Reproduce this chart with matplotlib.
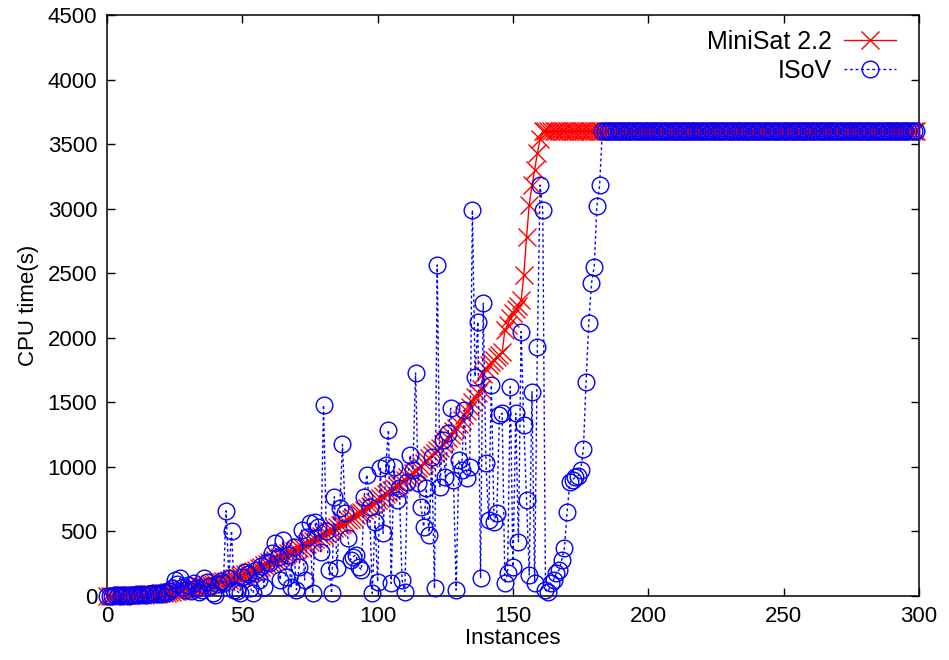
import matplotlib
matplotlib.use("Agg")
import matplotlib.pyplot as plt

plt.rcParams['font.family'] = ['Liberation Sans', 'DejaVu Sans']

# MiniSat 2.2 CPU times (s), instances 0..160 solved, rest timeout at 3600
minisat_solved = [
    1, 1, 2, 2, 3, 3, 4, 4, 5, 6,
    7, 8, 9, 10, 11, 12, 14, 15, 17, 19,
    21, 24, 27, 30, 34, 38, 42, 46, 50, 54,
    58, 62, 66, 70, 74, 78, 82, 86, 90, 95,
    100, 105, 110, 115, 120, 126, 132, 138, 145, 152,
    160, 168, 176, 185, 195, 205, 215, 226, 237, 248,
    260, 270, 280, 290, 300, 310, 320, 330, 340, 350,
    360, 370, 380, 392, 404, 416, 428, 440, 452, 464,
    476, 488, 500, 512, 524, 536, 548, 560, 572, 585,
    598, 612, 626, 640, 654, 668, 682, 697, 712, 727,
    742, 757, 772, 788, 804, 820, 836, 852, 868, 884,
    900, 918, 936, 954, 972, 990, 1010, 1030, 1050, 1070,
    1090, 1110, 1130, 1150, 1175, 1200, 1225, 1250, 1275, 1300,
    1330, 1360, 1400, 1430, 1460, 1500, 1540, 1570, 1600, 1720,
    1760, 1790, 1810, 1830, 1850, 1870, 1890, 2060, 2100, 2150,
    2190, 2220, 2250, 2290, 2490, 2780, 3030, 3180, 3300, 3430,
    3540,
]
minisat_timeout = [3600] * 139
minisat = minisat_solved + minisat_timeout

# ISoV CPU times (s), same instance order
isov_solved = [
    2, 3, 1, 5, 4, 2, 8, 6, 3, 10,
    7, 12, 5, 15, 9, 18, 12, 20, 14, 25,
    18, 30, 20, 40, 60, 124, 90, 137, 70, 50,
    85, 40, 100, 65, 30, 46, 137, 111, 80, 20,
    5, 90, 120, 100, 660, 140, 506, 46, 40, 21,
    150, 188, 170, 60, 21, 200, 124, 230, 72, 266,
    253, 330, 408, 300, 124, 434, 150, 320, 72, 382,
    49, 227, 511, 124, 460, 563, 21, 575, 537, 343,
    1480, 500, 201, 21, 769, 214, 679, 1175, 640, 447,
    279, 305, 318, 227, 201, 769, 940, 692, 21, 576,
    111, 989, 485, 1015, 1286, 98, 1002, 743, 834, 124,
    33, 886, 1092, 976, 1727, 873, 692, 537, 834, 472,
    1079, 59, 2564, 847, 1208, 924, 1260, 1454, 898, 46,
    1053, 976, 1440, 911, 1002, 2990, 1699, 2124, 137, 2267,
    1028, 589, 1634, 576, 640, 1402, 1415, 98, 176, 1621,
    227, 1415, 421, 2047, 1324, 743, 163, 1582, 98, 1931,
    3183, 2990, 46, 30, 100, 124, 180, 201, 279, 372,
    653, 880, 900, 920, 930, 976, 1136, 1660, 2117, 2423,
    2550, 3021, 3183,
]
isov_timeout = [3600] * 117
isov = isov_solved + isov_timeout

instances = list(range(len(minisat)))

fig = plt.figure(figsize=(9.49, 6.60), dpi=100)
ax = fig.add_axes([107/949, 1 - 596/660, (919-107)/949, (596-15)/660])

ax.plot(instances, minisat, color='#ff0000', lw=1.0, marker='x', ms=12.5,
        mew=1.0, label='MiniSat 2.2', clip_on=False, zorder=3)
ax.plot(instances, isov, color='#0000ff', lw=1.0, ls=(0, (2, 2)), marker='o',
        ms=12, mfc='none', mec='#0000ff', mew=1.0, label='ISoV', clip_on=False,
        zorder=4)

ax.set_xlim(0, 300)
ax.set_ylim(0, 4500)
ax.set_xticks([0, 50, 100, 150, 200, 250, 300])
ax.set_yticks(range(0, 4501, 500))
ax.tick_params(direction='in', length=6, width=1.0, top=True, right=True,
               labelsize=16, pad=7, colors='black')
for s in ax.spines.values():
    s.set_linewidth(1.1)

ax.set_xlabel('Instances', fontsize=16, labelpad=1)
ax.set_ylabel('CPU time(s)', fontsize=16, labelpad=6)

leg = ax.legend(loc='upper right', bbox_to_anchor=(1 - 13/812, 1 - 5/581),
                frameon=False, markerfirst=False, fontsize=18,
                handlelength=2.1, handletextpad=0.45, labelspacing=0.2,
                borderaxespad=0, numpoints=1)

fig.savefig('out.png', dpi=100)
